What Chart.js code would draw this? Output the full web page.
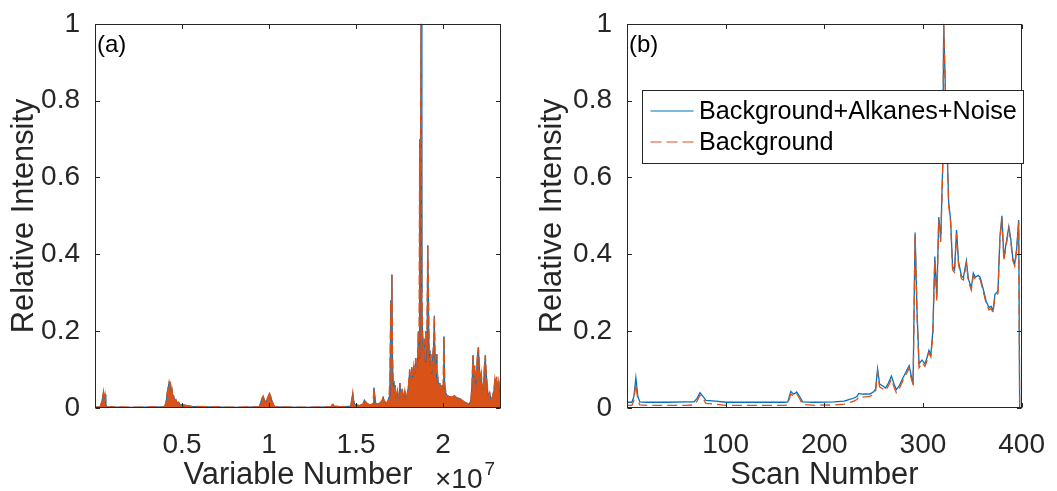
<!DOCTYPE html>
<html><head><meta charset="utf-8">
<script src="https://cdn.jsdelivr.net/npm/chart.js@4.4.1/dist/chart.umd.min.js"></script>
<style>
html,body{margin:0;padding:0;background:#fff;}
#wrap{position:relative;width:1057px;height:491px;overflow:hidden;background:#fff}
.box{position:absolute;top:0;height:491px}
#boxA{left:0;width:528px}
#boxB{left:528px;width:529px}
canvas{display:block}
</style></head><body>
<div id="wrap">
  <div class="box" id="boxA"><canvas id="cA" width="528" height="491"></canvas></div>
  <div class="box" id="boxB"><canvas id="cB" width="529" height="491"></canvas></div>
</div>
<script>
// ---------- Panel (a): variable number (x 10^7) vs relative intensity ----------
const variablePos = [
  0.000,0.030,0.038,0.045,0.049,0.053,0.058,0.062,0.068,0.200,
  0.400,0.408,0.415,0.421,0.426,0.430,0.434,0.438,0.442,0.447,
  0.452,0.458,0.465,0.472,0.480,0.490,0.510,0.530,0.560,0.650,
  0.800,0.945,0.952,0.960,0.966,0.972,0.980,0.988,0.995,1.003,
  1.010,1.018,1.026,1.035,1.200,1.355,1.362,1.368,1.375,1.420,
  1.470,1.476,1.481,1.486,1.492,1.505,1.520,1.540,1.548,1.553,
  1.560,1.570,1.585,1.598,1.603,1.608,1.614,1.625,1.640,1.650,
  1.656,1.662,1.672,1.680,1.690,1.695,1.700,1.703,1.706,1.709,
  1.713,1.718,1.724,1.730,1.738,1.745,1.752,1.758,1.765,1.772,
  1.780,1.788,1.795,1.802,1.808,1.814,1.820,1.826,1.832,1.838,
  1.843,1.848,1.853,1.858,1.862,1.866,1.870,1.874,1.878,1.882,
  1.887,1.892,1.897,1.902,1.907,1.912,1.916,1.920,1.925,1.930,
  1.935,1.940,1.945,1.950,1.955,1.960,1.965,1.970,1.976,1.982,
  1.988,1.994,2.000,2.005,2.010,2.016,2.025,2.035,2.050,2.065,
  2.080,2.095,2.110,2.125,2.140,2.150,2.160,2.166,2.172,2.177,
  2.182,2.187,2.193,2.198,2.203,2.208,2.213,2.220,2.226,2.232,
  2.238,2.243,2.248,2.254,2.260,2.268,2.276,2.284,2.292,2.298,
  2.303,2.308,2.314,2.320,2.326,2.333
];
const variableIntensity = [
  0.002,0.003,0.015,0.030,0.042,0.025,0.035,0.012,0.003,0.002,
  0.003,0.015,0.040,0.055,0.068,0.060,0.064,0.045,0.050,0.030,
  0.034,0.020,0.022,0.013,0.015,0.009,0.008,0.006,0.004,0.003,
  0.002,0.003,0.015,0.026,0.031,0.022,0.016,0.022,0.030,0.038,
  0.030,0.018,0.008,0.003,0.002,0.003,0.008,0.010,0.005,0.003,
  0.005,0.025,0.040,0.020,0.010,0.008,0.006,0.010,0.022,0.018,
  0.014,0.010,0.008,0.012,0.053,0.030,0.012,0.010,0.014,0.020,
  0.030,0.018,0.015,0.012,0.030,0.080,0.280,0.200,0.347,0.150,
  0.070,0.040,0.060,0.025,0.045,0.020,0.065,0.030,0.050,0.022,
  0.045,0.020,0.040,0.060,0.100,0.070,0.106,0.080,0.110,0.090,
  0.130,0.100,0.120,0.200,0.130,0.700,0.600,1.000,0.300,0.200,
  0.150,0.180,0.120,0.200,0.150,0.423,0.296,0.150,0.110,0.140,
  0.090,0.130,0.160,0.240,0.110,0.140,0.070,0.080,0.050,0.065,
  0.045,0.060,0.050,0.186,0.060,0.040,0.032,0.030,0.028,0.032,
  0.027,0.025,0.020,0.015,0.012,0.010,0.020,0.060,0.137,0.080,
  0.110,0.050,0.100,0.140,0.158,0.120,0.070,0.090,0.040,0.060,
  0.110,0.137,0.090,0.060,0.030,0.040,0.020,0.030,0.045,0.075,
  0.060,0.081,0.050,0.070,0.040,0.050
];
const variableTicks = [0.5, 1, 1.5, 2];

// ---------- Panel (b): scan number vs relative intensity ----------
const scanNumbers = [
  1,5,7,9,11,13,20,40,60,68,71,74,77,80,90,100,130,160,163,166,
  169,172,175,178,190,210,220,225,230,233,235,238,242,246,250,252,254,256,259,262,
  265,268,271,273,276,279,282,284,286,288,290,292,294,296,299,302,304,306,308,310,
  312,314,316,318,320,321,323,325,326,328,330,332,334,336,339,341,344,346,349,351,
  353,356,358,362,364,367,369,371,373,376,378,380,382,384,387,389,391,393,395,397,398
];
const mixtureIntensity = [
  0.015,0.015,0.030,0.079,0.030,0.016,0.015,0.015,0.016,0.016,0.025,0.040,0.030,0.020,0.018,0.015,0.015,0.015,0.016,0.043,
  0.036,0.042,0.030,0.016,0.015,0.016,0.018,0.022,0.026,0.030,0.038,0.036,0.037,0.036,0.042,0.050,0.102,0.062,0.058,0.052,
  0.065,0.083,0.060,0.048,0.058,0.075,0.090,0.100,0.110,0.085,0.066,0.457,0.250,0.115,0.125,0.115,0.130,0.150,0.140,0.200,
  0.394,0.287,0.497,0.440,0.630,1.000,0.800,0.630,0.536,0.490,0.368,0.360,0.463,0.381,0.343,0.340,0.383,0.336,0.313,0.351,
  0.340,0.345,0.340,0.300,0.278,0.261,0.265,0.254,0.296,0.304,0.446,0.500,0.390,0.424,0.472,0.440,0.390,0.375,0.416,0.489,0.000
];
const backgroundIntensity = [
  0.007,0.007,0.020,0.063,0.020,0.008,0.007,0.007,0.007,0.008,0.018,0.034,0.024,0.012,0.010,0.007,0.007,0.007,0.009,0.037,
  0.030,0.037,0.024,0.009,0.007,0.008,0.010,0.014,0.018,0.022,0.030,0.028,0.029,0.030,0.036,0.045,0.095,0.055,0.050,0.045,
  0.058,0.075,0.052,0.040,0.050,0.068,0.083,0.093,0.104,0.078,0.060,0.450,0.240,0.105,0.118,0.108,0.123,0.143,0.133,0.190,
  0.385,0.280,0.490,0.432,0.620,1.000,0.790,0.620,0.530,0.483,0.360,0.353,0.455,0.374,0.336,0.333,0.376,0.330,0.307,0.345,
  0.334,0.339,0.334,0.294,0.272,0.255,0.259,0.248,0.290,0.298,0.440,0.494,0.384,0.418,0.466,0.434,0.384,0.369,0.410,0.483,0.000
];
const scanTicks = [100, 200, 300, 400];

const intensityTicks = [0, 0.2, 0.4, 0.6, 0.8, 1];
const seriesNames = ['Background+Alkanes+Noise', 'Background'];
const panelLabels = ['(a)', '(b)'];
const axisTitles = {a: 'Variable Number', b: 'Scan Number', y: 'Relative Intensity'};

// ---------- styling ----------
const FONT = '"Liberation Sans", Arial, Helvetica, sans-serif';
const AXIS = '#262626';
const BLUE = '#0072BD';
const ORANGE = '#D95319';
const DASH = [10, 5];

function pts(xs, ys) { return xs.map((x, i) => ({x: x, y: ys[i]})); }

function frame(chart, xt, yt) {
  const {ctx, chartArea: a, scales} = chart;
  const x = scales.x, y = scales.y;
  const L = Math.round(a.left) + 0.5, R = Math.round(a.right) - 0.5;
  const T = Math.round(a.top) + 0.5, B = Math.round(a.bottom) - 0.5;
  const tl = 4.5;
  ctx.save();
  ctx.strokeStyle = AXIS; ctx.lineWidth = 1;
  ctx.strokeRect(L, T, R - L, B - T);
  ctx.beginPath();
  xt.forEach(v => { const px = Math.round(x.getPixelForValue(v)) + 0.5;
    ctx.moveTo(px, B); ctx.lineTo(px, B - tl); ctx.moveTo(px, T); ctx.lineTo(px, T + tl); });
  yt.forEach(v => { const py = Math.round(y.getPixelForValue(v)) + 0.5;
    ctx.moveTo(L, py); ctx.lineTo(L + tl, py); ctx.moveTo(R, py); ctx.lineTo(R - tl, py); });
  ctx.stroke();
  ctx.restore();
}

function scales(xmin, xmax, xt, xtitle, yWidth) {
  return {
    x: {
      type: 'linear', min: xmin, max: xmax,
      afterBuildTicks: s => { s.ticks = xt.map(v => ({value: v})); },
      afterFit: s => { s.height = 83; },
      grid: {display: false}, border: {display: false},
      ticks: {color: AXIS, font: {family: FONT, size: 28}, padding: 12, maxRotation: 0, autoSkip: false,
              callback: v => String(v)},
      title: {display: true, text: xtitle, color: AXIS, font: {family: FONT, size: 30.8, lineHeight: 1}, padding: 0}
    },
    y: {
      type: 'linear', min: 0, max: 1,
      afterBuildTicks: s => { s.ticks = intensityTicks.map(v => ({value: v})); },
      afterFit: s => { s.width = yWidth; },
      grid: {display: false}, border: {display: false},
      ticks: {color: AXIS, font: {family: FONT, size: 28}, padding: 7, autoSkip: false,
              callback: v => String(v)},
      title: {display: true, text: axisTitles.y, color: AXIS, font: {family: FONT, size: 30.8, lineHeight: 1}, padding: {top: 9.5, bottom: 0}}
    }
  };
}

// ---------- Panel (a) ----------
const plugA = {
  id: 'plugA',
  afterDraw(chart) {
    frame(chart, variableTicks, intensityTicks);
    const {ctx, chartArea: a} = chart;
    ctx.save();
    ctx.fillStyle = '#000';
    ctx.font = '24px ' + FONT;
    ctx.textBaseline = 'alphabetic'; ctx.textAlign = 'left';
    ctx.fillText(panelLabels[0], a.left + 2, 52);
    ctx.fillStyle = AXIS;
    ctx.font = '28px ' + FONT;
    const base = '\u00D710';
    ctx.fillText(base, 435, 488);
    const w = ctx.measureText(base).width;
    ctx.font = '19px ' + FONT;
    ctx.fillText('7', 435 + w + 2, 475);
    ctx.restore();
  }
};

new Chart(document.getElementById('cA'), {
  type: 'line',
  data: {datasets: [
    {label: seriesNames[0], data: pts(variablePos, variableIntensity), borderColor: BLUE, borderWidth: 1,
     pointRadius: 0, tension: 0, fill: false, order: 1},
    {label: seriesNames[1], data: pts(variablePos, variableIntensity), borderColor: ORANGE, borderWidth: 1.4,
     borderDash: [10, 4], pointRadius: 0, tension: 0, fill: 'origin', backgroundColor: ORANGE, order: 0}
  ]},
  options: {
    responsive: false, animation: false, events: [],
    layout: {padding: {top: 20, right: 27, left: 0, bottom: 0}},
    plugins: {legend: {display: false}, tooltip: {enabled: false}, filler: {drawTime: 'beforeDatasetsDraw'}},
    scales: scales(0, 2.333, variableTicks, axisTitles.a, 95)
  },
  plugins: [plugA]
});

// ---------- Panel (b) ----------
const plugB = {
  id: 'plugB',
  afterDraw(chart) {
    frame(chart, scanTicks, intensityTicks);
    const {ctx, chartArea: a} = chart;
    ctx.save();
    ctx.fillStyle = '#000';
    ctx.font = '24px ' + FONT;
    ctx.textBaseline = 'alphabetic'; ctx.textAlign = 'left';
    ctx.fillText(panelLabels[1], a.left + 2, 52);
    // legend
    const bx = Math.round(a.left) + 15.5, by = 90.5, bw = 381, bh = 73;
    ctx.fillStyle = '#fff';
    ctx.fillRect(bx, by, bw, bh);
    ctx.strokeStyle = AXIS; ctx.lineWidth = 1;
    ctx.strokeRect(bx, by, bw, bh);
    const lx0 = a.left + 23.5, lx1 = a.left + 66.5, tx = a.left + 72;
    const rows = [{y: 111, color: BLUE, dash: []}, {y: 142, color: ORANGE, dash: [11, 5]}];
    ctx.font = '25.2px ' + FONT;
    ctx.textBaseline = 'middle';
    rows.forEach((r, i) => {
      ctx.beginPath(); ctx.setLineDash(r.dash); ctx.strokeStyle = r.color; ctx.lineWidth = 1.2;
      ctx.moveTo(lx0, r.y); ctx.lineTo(lx1, r.y); ctx.stroke();
      ctx.setLineDash([]);
      ctx.fillStyle = '#000';
      ctx.fillText(seriesNames[i], tx, r.y + 1.5);
    });
    ctx.restore();
  }
};

new Chart(document.getElementById('cB'), {
  type: 'line',
  data: {datasets: [
    {label: seriesNames[0], data: pts(scanNumbers, mixtureIntensity), borderColor: BLUE, borderWidth: 1.3,
     pointRadius: 0, tension: 0, fill: false, order: 1},
    {label: seriesNames[1], data: pts(scanNumbers, backgroundIntensity), borderColor: ORANGE, borderWidth: 1.3,
     borderDash: DASH, pointRadius: 0, tension: 0, fill: false, order: 0}
  ]},
  options: {
    responsive: false, animation: false, events: [],
    layout: {padding: {top: 20, right: 25, left: 0, bottom: 0}},
    plugins: {legend: {display: false}, tooltip: {enabled: false}},
    scales: scales(0, 400, scanTicks, axisTitles.b, 99)
  },
  plugins: [plugB]
});
</script>
</body></html>
